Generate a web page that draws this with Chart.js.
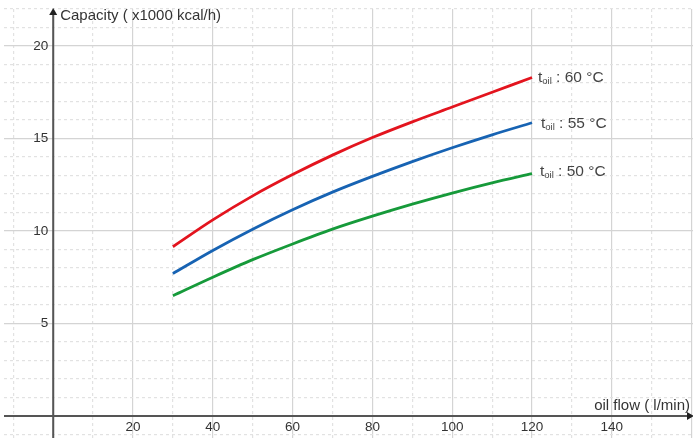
<!DOCTYPE html>
<html>
<head>
<meta charset="utf-8">
<script src="https://cdn.jsdelivr.net/npm/chart.js@4/dist/chart.umd.min.js"></script>
<style>
  html, body { margin: 0; padding: 0; background: #fff; }
  #wrap { width: 693px; height: 438px; position: relative; }
</style>
</head>
<body>
<div id="wrap"><canvas id="chart"></canvas></div>
<script>
// oil flow (l/min)
const flow = [30, 40, 50, 60, 70, 80, 90, 100, 110, 120];
// capacity (x1000 kcal/h) per oil temperature
const cap60 = [9.15, 10.6, 11.9, 13.05, 14.1, 15.05, 15.9, 16.7, 17.5, 18.3];
const cap55 = [7.7, 8.95, 10.1, 11.15, 12.1, 12.95, 13.75, 14.5, 15.2, 15.85];
const cap50 = [6.5, 7.5, 8.45, 9.3, 10.1, 10.8, 11.45, 12.05, 12.6, 13.1];
const temps = ["60", "55", "50"];
const colors = ["#e3141e", "#1763b3", "#169a3a"];

const xTickLabels = [20, 40, 60, 80, 100, 120, 140];
const yTickLabels = [5, 10, 15, 20];

function pts(ys) {
  return flow.map((x, i) => ({ x: x, y: ys[i] }));
}

const dash = [3, 3];

const axesPlugin = {
  id: "axes",
  beforeDatasetsDraw(chart) {
    const c = chart.ctx;
    const xs = chart.scales.x, ys = chart.scales.y;
    const a = chart.chartArea;
    const x0 = xs.getPixelForValue(0), y0 = ys.getPixelForValue(0);
    c.save();
    c.strokeStyle = "#555";
    c.lineWidth = 2;
    c.beginPath();
    c.moveTo(x0, a.bottom); c.lineTo(x0, a.top + 2);
    c.moveTo(a.left, y0); c.lineTo(a.right - 2, y0);
    c.stroke();
    c.fillStyle = "#222";
    c.beginPath();
    c.moveTo(x0, a.top - 1); c.lineTo(x0 - 4, a.top + 6); c.lineTo(x0 + 4, a.top + 6);
    c.closePath(); c.fill();
    c.beginPath();
    c.moveTo(a.right + 1, y0); c.lineTo(a.right - 6, y0 - 4); c.lineTo(a.right - 6, y0 + 4);
    c.closePath(); c.fill();

    c.fillStyle = "#333";
    c.font = "13.5px 'Liberation Sans', Arial, sans-serif";
    c.textAlign = "center"; c.textBaseline = "top";
    xTickLabels.forEach(v => c.fillText(String(v), xs.getPixelForValue(v), y0 + 5));
    c.textAlign = "right"; c.textBaseline = "middle";
    yTickLabels.forEach(v => c.fillText(String(v), x0 - 5, ys.getPixelForValue(v)));

    c.font = "15px 'Liberation Sans', Arial, sans-serif";
    c.textAlign = "left"; c.textBaseline = "middle";
    c.fillText("Capacity ( x1000 kcal/h)", x0 + 7, a.top + 7);
    c.textAlign = "right"; c.textBaseline = "alphabetic";
    c.fillText("oil flow ( l/min)", a.right - 3, y0 - 6);
    c.restore();
  },
  afterDatasetsDraw(chart) {
    const c = chart.ctx;
    c.save();
    c.fillStyle = "#444";
    c.textBaseline = "alphabetic";
    c.textAlign = "left";
    const offs = [[6, 5], [9, 5], [8, 2]];
    chart.data.datasets.forEach((ds, i) => {
      const meta = chart.getDatasetMeta(i);
      const last = meta.data[meta.data.length - 1];
      let px = last.x + offs[i][0], py = last.y + offs[i][1];
      c.font = "15.5px 'Liberation Sans', Arial, sans-serif";
      c.fillText("t", px, py);
      px += c.measureText("t").width;
      c.font = "9.5px 'Liberation Sans', Arial, sans-serif";
      c.fillText("oil", px, py + 2);
      px += c.measureText("oil").width;
      c.font = "15.5px 'Liberation Sans', Arial, sans-serif";
      c.fillText(" : " + temps[i] + " °C", px, py);
    });
    c.restore();
  }
};

function gridScale(min, max, step, major) {
  return {
    type: "linear",
    min: min,
    max: max,
    afterBuildTicks(s) {
      const t = [];
      for (let v = Math.ceil(min / step) * step; v <= max; v += step) t.push({ value: v });
      s.ticks = t;
    },
    ticks: { display: false },
    grid: {
      drawTicks: false,
      lineWidth: 1.2,
      color: ctx => (ctx.tick && ctx.tick.value % major === 0) ? "#d4d4d4" : "#e2e2e2"
    },
    border: {
      display: false,
      dash: ctx => (ctx.tick && ctx.tick.value % major === 0) ? [] : dash
    }
  };
}

new Chart(document.getElementById("chart"), {
  type: "line",
  data: {
    datasets: [
      { label: "60", data: pts(cap60), borderColor: colors[0] },
      { label: "55", data: pts(cap55), borderColor: colors[1] },
      { label: "50", data: pts(cap50), borderColor: colors[2] }
    ]
  },
  options: {
    responsive: true,
    maintainAspectRatio: false,
    animation: false,
    layout: { padding: { left: 4, top: 9, right: 0, bottom: 0 } },
    elements: {
      line: { borderWidth: 2.8, cubicInterpolationMode: "monotone", fill: false },
      point: { radius: 0, hoverRadius: 0 }
    },
    plugins: { legend: { display: false }, tooltip: { enabled: false } },
    scales: {
      x: gridScale(-12.33, 160.35, 10, 20),
      y: gridScale(-1.19, 22.0, 1, 5)
    }
  },
  plugins: [axesPlugin]
});
</script>
</body>
</html>
